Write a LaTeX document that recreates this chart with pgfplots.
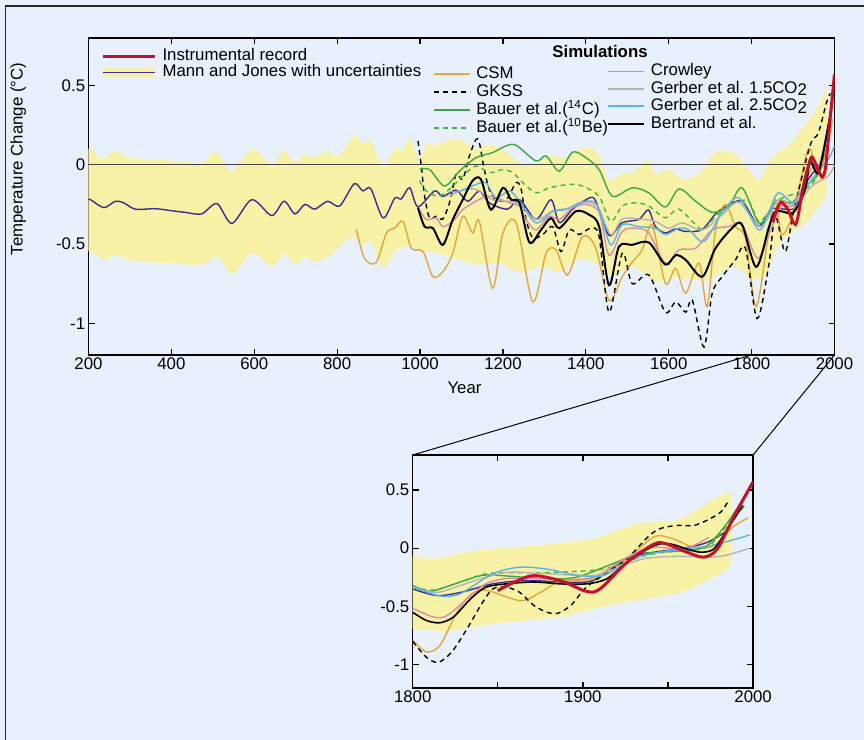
\documentclass[border=0pt]{standalone}
\usepackage{pgfplots}
\pgfplotsset{compat=1.18}
\usepackage{fontspec}
\setmainfont{Liberation Sans}
\definecolor{bg}{HTML}{E8F1FB}
\definecolor{band}{HTML}{F8F2A6}
\definecolor{mj}{RGB}{61,43,143}
\definecolor{csm}{RGB}{226,167,58}
\definecolor{grA}{RGB}{60,168,67}
\definecolor{grB}{RGB}{64,180,70}
\definecolor{crow}{RGB}{217,139,174}
\definecolor{gerA}{RGB}{180,180,180}
\definecolor{gerB}{RGB}{92,178,234}
\definecolor{instr}{RGB}{200,16,46}
\pgfplotsset{
  myax/.style={scale only axis, axis line style={line width=0.75pt}, tick style={black,line width=0.6pt}, major tick length=3pt, tick align=inside,
    ticklabel style={font=\fontsize{8.4}{10}\selectfont}, xticklabel style={inner sep=1.2pt}, yticklabel style={inner xsep=1.5pt}, clip=true},
  sim/.style={line width=0.7pt, smooth},
  legax/.style={scale only axis, at={(44.25pt,192.5pt)}, anchor=south west, width=373pt, height=158.5pt,
    xmin=0,xmax=1,ymin=0,ymax=1, hide axis, legend cell align=left,
    legend style={draw=none, fill=none, inner sep=0pt, font=\fontsize{8.4}{10}\selectfont,
      nodes={inner xsep=1.5pt, inner ysep=0.4pt, text height=6.1pt, text depth=1.8pt}}},
}
\begin{document}
\begin{tikzpicture}[font=\fontsize{8.4}{10}\selectfont]
\fill[bg] (0,0) rectangle (432pt,370pt);
\draw[black!85, line width=0.6pt] (2.6pt,0pt) -- (2.6pt,367pt) -- (432pt,367pt);

% ---------------- main axis
\begin{axis}[myax, name=main, at={(44.25pt,192.5pt)}, anchor=south west, width=373pt, height=158.5pt,
  xmin=200, xmax=2000, ymin=-1.2, ymax=0.8,
  xtick={200,400,...,2000}, xticklabels={200,400,600,800,1000,1200,1400,1600,1800,2000},
  ytick={-1,-0.5,0,0.5}, yticklabels={-1,-0.5,0,0.5},
  xlabel={Year}, ylabel={Temperature Change (°C)},
  xlabel style={at={(axis description cs:0.504,-0.104)}, anchor=center},
  ylabel style={at={(axis description cs:-0.094,0.618)}, anchor=center},
]
\addplot[fill=band, draw=none, smooth] coordinates {(180,0.10) (200,0.10) (209,0.10) (229,0.035) (265,0.085) (297,0.045) (353,0.035) (433,0.018) (473,0.014) (510,0.077) (546,-0.046) (594,0.10) (642,0.003) (672,0.087) (698,0.014) (722,0.066) (746,0.045) (774,0.081) (806,0.056) (841,0.187) (862,0.13) (881,0.15) (911,-0.008) (939,0.103) (955,0.087) (975,0.16) (999,0.035) (1015,0.13) (1035,0.12) (1055,0.14) (1095,0.16) (1135,0.098) (1167,0.13) (1215,0.066) (1240,0.014) (1272,-0.008) (1312,0.056) (1352,0.045) (1376,0.087) (1408,0.11) (1432,0.056) (1456,-0.10) (1488,-0.05) (1512,-0.05) (1552,0.03) (1568,-0.06) (1600,-0.03) (1632,-0.09) (1671,-0.06) (1713,0.077) (1753,0.077) (1793,-0.03) (1817,-0.10) (1849,0.045) (1889,0.12) (1929,0.25) (1961,0.37) (1981,0.48) (1982,0.3) (1982,0.0) (1981,-0.18) (1961,-0.27) (1929,-0.37) (1900,-0.42) (1865,-0.50) (1841,-0.66) (1809,-0.725) (1761,-0.64) (1729,-0.68) (1689,-0.725) (1649,-0.725) (1608,-0.71) (1568,-0.735) (1512,-0.64) (1464,-0.70) (1424,-0.62) (1376,-0.60) (1336,-0.68) (1296,-0.64) (1240,-0.68) (1190,-0.62) (1135,-0.63) (1095,-0.60) (1055,-0.567) (1015,-0.545) (1003,-0.556) (979,-0.51) (939,-0.545) (911,-0.65) (883,-0.49) (862,-0.50) (834,-0.46) (778,-0.58) (746,-0.61) (722,-0.58) (698,-0.63) (674,-0.56) (642,-0.64) (594,-0.556) (546,-0.69) (513,-0.58) (473,-0.63) (393,-0.62) (313,-0.61) (265,-0.57) (241,-0.60) (205,-0.545) (200,-0.545) (180,-0.545)} -- cycle;
\addplot[black!75, line width=0.5pt] coordinates {(200,0) (2000,0)};
% Mann and Jones
\addplot[mj, sim] coordinates {(200,-0.22) (205,-0.22) (237,-0.27) (265,-0.23) (285,-0.24) (313,-0.28) (361,-0.277) (401,-0.29) (433,-0.30) (473,-0.31) (510,-0.245) (546,-0.37) (594,-0.22) (642,-0.32) (672,-0.23) (698,-0.31) (722,-0.25) (746,-0.28) (777,-0.23) (806,-0.26) (841,-0.12) (862,-0.165) (881,-0.15) (911,-0.335) (939,-0.21) (955,-0.215) (975,-0.145) (995,-0.265) (1035,-0.165) (1055,-0.20) (1087,-0.16) (1115,-0.23) (1143,-0.165) (1167,-0.24) (1211,-0.28) (1240,-0.22) (1280,-0.345) (1316,-0.22) (1336,-0.365) (1368,-0.28) (1408,-0.21) (1424,-0.23) (1456,-0.445) (1488,-0.365) (1528,-0.345) (1551,-0.285) (1568,-0.39) (1592,-0.43) (1616,-0.405) (1640,-0.42) (1680,-0.41) (1713,-0.31) (1737,-0.265) (1777,-0.23) (1817,-0.385) (1849,-0.28) (1881,-0.28) (1905,-0.27) (1930,-0.12) (1957,-0.02) (1975,0.05) (1988,0.17)};
% CSM
\addplot[csm, sim] coordinates {(846,-0.405) (866,-0.59) (894,-0.617) (919,-0.43) (939,-0.40) (959,-0.357) (979,-0.526) (1007,-0.547) (1031,-0.706) (1055,-0.675) (1079,-0.558) (1103,-0.325) (1127,-0.43) (1143,-0.357) (1175,-0.78) (1200,-0.43) (1232,-0.367) (1272,-0.865) (1304,-0.558) (1328,-0.536) (1356,-0.695) (1392,-0.452) (1424,-0.526) (1456,-0.855) (1488,-0.706) (1510,-0.62) (1536,-0.536) (1560,-0.378) (1592,-0.748) (1617,-0.653) (1641,-0.81) (1673,-0.62) (1693,-0.895) (1713,-0.41) (1737,-0.25) (1761,-0.39) (1785,-0.462) (1811,-0.895) (1841,-0.43) (1857,-0.22) (1873,-0.44) (1901,-0.30) (1937,0.10) (1961,-0.06) (1985,0.14) (1995,0.29)};
% GKSS
\addplot[black, sim, dash pattern=on 2.5pt off 2pt] coordinates {(995,0.15) (1003,-0.007) (1011,-0.198) (1023,-0.336) (1039,-0.325) (1055,-0.342) (1071,-0.24) (1087,-0.06) (1103,-0.092) (1119,0.056) (1135,0.16) (1143,0.14) (1155,-0.03) (1167,-0.155) (1183,-0.22) (1208,-0.22) (1232,-0.113) (1244,-0.155) (1256,-0.346) (1272,-0.462) (1296,-0.44) (1320,-0.39) (1340,-0.547) (1360,-0.41) (1384,-0.44) (1412,-0.40) (1432,-0.452) (1456,-0.93) (1488,-0.558) (1512,-0.75) (1552,-0.695) (1592,-0.93) (1617,-0.865) (1641,-0.93) (1657,-0.855) (1685,-1.15) (1705,-0.81) (1729,-0.706) (1761,-0.60) (1785,-0.526) (1813,-0.97) (1841,-0.64) (1857,-0.325) (1881,-0.548) (1901,-0.30) (1941,0.12) (1961,0.20) (1981,0.395) (1990,0.45)};
% Bauer 14C
\addplot[grA, sim] coordinates {(999,-0.03) (1023,-0.03) (1059,-0.134) (1095,-0.04) (1135,0.045) (1175,0.077) (1208,0.12) (1232,0.123) (1280,0.024) (1304,0.056) (1336,-0.04) (1368,0.08) (1400,0.045) (1432,-0.03) (1464,-0.198) (1512,-0.145) (1552,-0.177) (1592,-0.266) (1625,-0.152) (1665,-0.23) (1705,-0.30) (1745,-0.26) (1777,-0.145) (1817,-0.367) (1841,-0.30) (1865,-0.22) (1897,-0.24) (1929,-0.134) (1961,-0.05) (1985,0.246) (1998,0.46)};
% Bauer 10Be
\addplot[grB, sim, dash pattern=on 2.5pt off 2pt] coordinates {(999,-0.10) (1015,-0.166) (1047,-0.198) (1079,-0.134) (1103,-0.071) (1135,-0.007) (1167,-0.05) (1200,-0.03) (1224,-0.05) (1248,-0.113) (1280,-0.177) (1312,-0.145) (1360,-0.124) (1392,-0.134) (1432,-0.20) (1460,-0.357) (1488,-0.26) (1520,-0.24) (1552,-0.26) (1592,-0.335) (1625,-0.28) (1681,-0.41) (1713,-0.325) (1761,-0.24) (1793,-0.23) (1817,-0.357) (1841,-0.30) (1865,-0.22) (1929,-0.155) (1961,-0.05) (1993,0.31)};
% Crowley
\addplot[crow, sim] coordinates {(999,-0.283) (1015,-0.346) (1039,-0.336) (1055,-0.39) (1079,-0.357) (1103,-0.283) (1135,-0.23) (1167,-0.198) (1216,-0.24) (1240,-0.26) (1256,-0.346) (1280,-0.41) (1312,-0.325) (1336,-0.346) (1368,-0.272) (1400,-0.25) (1432,-0.30) (1456,-0.57) (1488,-0.42) (1520,-0.40) (1552,-0.43) (1592,-0.62) (1625,-0.536) (1665,-0.526) (1705,-0.41) (1745,-0.39) (1777,-0.378) (1815,-0.59) (1849,-0.39) (1873,-0.26) (1897,-0.26) (1929,-0.11) (1950,0.0) (1961,-0.01) (1974,0.10)};
% Gerber 1.5
\addplot[gerA, sim] coordinates {(1071,-0.198) (1103,-0.16) (1135,-0.155) (1175,-0.22) (1216,-0.23) (1240,-0.25) (1280,-0.346) (1320,-0.293) (1360,-0.272) (1392,-0.24) (1428,-0.26) (1460,-0.44) (1488,-0.342) (1528,-0.342) (1568,-0.357) (1600,-0.40) (1633,-0.367) (1681,-0.41) (1729,-0.315) (1769,-0.236) (1817,-0.388) (1841,-0.33) (1865,-0.22) (1905,-0.26) (1945,-0.134) (1985,-0.07) (2000,0.0)};
% Gerber 2.5
\addplot[gerB, sim] coordinates {(1071,-0.17) (1095,-0.166) (1135,-0.124) (1159,-0.113) (1183,-0.208) (1216,-0.166) (1240,-0.23) (1280,-0.367) (1320,-0.293) (1352,-0.283) (1384,-0.24) (1416,-0.23) (1432,-0.283) (1460,-0.505) (1488,-0.378) (1528,-0.39) (1568,-0.40) (1592,-0.44) (1625,-0.40) (1649,-0.41) (1685,-0.484) (1729,-0.304) (1769,-0.208) (1817,-0.41) (1841,-0.30) (1865,-0.177) (1905,-0.24) (1945,-0.092) (1985,0.035) (2000,0.12)};
% Bertrand
\addplot[black, line width=1pt, smooth] coordinates {(995,-0.27) (1011,-0.39) (1031,-0.40) (1055,-0.505) (1079,-0.346) (1103,-0.22) (1127,-0.10) (1147,-0.092) (1171,-0.283) (1200,-0.145) (1220,-0.22) (1240,-0.24) (1264,-0.49) (1292,-0.41) (1316,-0.336) (1336,-0.40) (1376,-0.293) (1408,-0.315) (1432,-0.39) (1456,-0.76) (1480,-0.516) (1512,-0.505) (1552,-0.49) (1592,-0.63) (1617,-0.57) (1641,-0.60) (1681,-0.706) (1713,-0.526) (1753,-0.40) (1777,-0.378) (1811,-0.645) (1841,-0.40) (1855,-0.30) (1873,-0.294) (1901,-0.30) (1929,-0.155) (1941,0.024) (1961,-0.05) (1985,0.246) (1995,0.40)};
% Instrumental
\addplot[instr, line width=1.5pt, smooth] coordinates {(1850,-0.364) (1860,-0.29) (1871,-0.235) (1887,-0.28) (1902,-0.37) (1910,-0.35) (1926,-0.12) (1942,0.037) (1949,0.037) (1961,-0.034) (1971,-0.077) (1979,-0.006) (1989,0.28) (2000,0.57)};
\coordinate (m1800) at (axis cs:1800,-1.2);
\coordinate (m2000) at (axis cs:2000,-1.2);
\end{axis}

% ---------------- legends
\begin{axis}[legax, legend style={at={(0.0137,0.970)}, anchor=north west, row sep=-0.85pt}]
\addplot[draw=none, forget plot] coordinates {(0,0) (1,1)};
\addlegendimage{legend image code/.code={\draw[instr, line width=1.5pt] (0pt,0pt) -- (26pt,0pt);}}
\addlegendentry{Instrumental record}
\addlegendimage{legend image code/.code={\draw[band, line width=4.2pt] (0pt,0pt) -- (26pt,0pt); \draw[mj, line width=0.65pt] (0pt,0pt) -- (26pt,0pt);}}
\addlegendentry{Mann and Jones with uncertainties}
\end{axis}
\begin{axis}[legax, legend style={at={(0.462,0.916)}, anchor=north west, row sep=0.4pt}]
\addplot[draw=none, forget plot] coordinates {(0,0) (1,1)};
\addlegendimage{legend image code/.code={\draw[draw=csm, line width=0.9pt, solid] (0pt,0pt) -- (18pt,0pt);}}
\addlegendentry{\hspace{1pt}CSM}
\addlegendimage{legend image code/.code={\draw[draw=black, line width=0.9pt, dash pattern=on 2.5pt off 2pt] (0pt,0pt) -- (18pt,0pt);}}
\addlegendentry{\hspace{1pt}GKSS}
\addlegendimage{legend image code/.code={\draw[draw=grA, line width=0.9pt, solid] (0pt,0pt) -- (18pt,0pt);}}
\addlegendentry{\hspace{1pt}Bauer et al.(\textsuperscript{14}C)}
\addlegendimage{legend image code/.code={\draw[draw=grB, line width=0.9pt, dash pattern=on 2.5pt off 2pt] (0pt,0pt) -- (18pt,0pt);}}
\addlegendentry{\hspace{1pt}Bauer et al.(\textsuperscript{10}Be)}
\end{axis}
\begin{axis}[legax, legend style={at={(0.695,0.923)}, anchor=north west, row sep=0pt}]
\addplot[draw=none, forget plot] coordinates {(0,0) (1,1)};
\addlegendimage{legend image code/.code={\draw[draw=crow, line width=0.9pt, solid] (0pt,0pt) -- (18pt,0pt);}}
\addlegendentry{\hspace{1.2pt}Crowley}
\addlegendimage{legend image code/.code={\draw[draw=gerA, line width=0.9pt, solid] (0pt,0pt) -- (18pt,0pt);}}
\addlegendentry{\hspace{1.2pt}Gerber et al.\ 1.5CO\raisebox{-0.3ex}{2}}
\addlegendimage{legend image code/.code={\draw[draw=gerB, line width=0.9pt, solid] (0pt,0pt) -- (18pt,0pt);}}
\addlegendentry{\hspace{1.2pt}Gerber et al.\ 2.5CO\raisebox{-0.3ex}{2}}
\addlegendimage{legend image code/.code={\draw[draw=black, line width=1.1pt, solid] (0pt,0pt) -- (18pt,0pt);}}
\addlegendentry{\hspace{1.2pt}Bertrand et al.}
\end{axis}
\node[font=\bfseries\fontsize{8.4}{10}\selectfont] at (300pt,344.2pt) {Simulations};

% ---------------- inset
\begin{axis}[myax, name=inset, at={(206.35pt,26pt)}, anchor=south west, width=170.2pt, height=116.5pt,
  xmin=1800, xmax=2000, ymin=-1.2, ymax=0.8,
  xtick={1800,1850,1900,1950,2000}, xticklabels={1800,,1900,,2000},
  ytick={-1,-0.5,0,0.5}, yticklabels={-1,-0.5,0,0.5},
]
\addplot[fill=band, draw=none, smooth] coordinates {(1795,-0.06) (1800,-0.064) (1812,-0.09) (1830,-0.04) (1847,-0.006) (1870,0.02) (1906,0.08) (1932,0.21) (1955,0.24) (1975,0.40) (1986,0.48) (1987,0.3) (1987,0.0) (1986,-0.16) (1975,-0.26) (1957,-0.38) (1916,-0.49) (1885,-0.59) (1847,-0.65) (1820,-0.71) (1800,-0.69) (1795,-0.69)} -- cycle;
\addplot[mj, sim] coordinates {(1800,-0.35) (1814,-0.406) (1828,-0.38) (1847,-0.306) (1867,-0.277) (1887,-0.29) (1906,-0.277) (1926,-0.09) (1942,-0.034) (1957,-0.006) (1973,0.05) (1987,0.17)};
\addplot[csm, sim] coordinates {(1800,-0.79) (1808,-0.89) (1816,-0.835) (1826,-0.55) (1834,-0.40) (1843,-0.36) (1863,-0.45) (1875,-0.38) (1887,-0.28) (1906,-0.26) (1926,-0.09) (1942,0.10) (1953,0.08) (1965,0.009) (1977,0.02) (1987,0.17) (1997,0.26)};
\addplot[black, sim, dash pattern=on 2.5pt off 2pt] coordinates {(1800,-0.80) (1808,-0.935) (1815,-0.98) (1823,-0.89) (1832,-0.69) (1840,-0.49) (1847,-0.35) (1855,-0.335) (1863,-0.38) (1871,-0.49) (1879,-0.55) (1885,-0.56) (1893,-0.49) (1902,-0.335) (1915,-0.2) (1926,-0.09) (1938,0.094) (1945,0.166) (1955,0.195) (1965,0.195) (1973,0.24) (1981,0.31) (1985,0.395)};
\addplot[grA, sim] coordinates {(1800,-0.32) (1810,-0.37) (1822,-0.32) (1834,-0.26) (1843,-0.23) (1857,-0.24) (1877,-0.26) (1896,-0.25) (1918,-0.13) (1932,-0.05) (1945,-0.034) (1961,-0.02) (1973,0.023) (1985,0.22) (1996,0.47)};
\addplot[grB, sim, dash pattern=on 2.5pt off 2pt] coordinates {(1800,-0.33) (1812,-0.36) (1828,-0.29) (1843,-0.22) (1857,-0.21) (1877,-0.21) (1906,-0.19) (1920,-0.15) (1935,-0.07) (1950,-0.03) (1965,-0.02) (1975,0.03) (1985,0.2) (1996,0.38)};
\addplot[crow, sim] coordinates {(1800,-0.515) (1812,-0.59) (1820,-0.58) (1832,-0.435) (1843,-0.306) (1855,-0.26) (1871,-0.26) (1887,-0.27) (1906,-0.25) (1920,-0.13) (1932,-0.034) (1942,0.009) (1955,-0.006) (1965,0.023) (1974,0.094)};
\addplot[gerA, sim] coordinates {(1800,-0.335) (1814,-0.38) (1828,-0.32) (1843,-0.25) (1857,-0.206) (1880,-0.22) (1906,-0.235) (1920,-0.17) (1936,-0.09) (1955,-0.07) (1975,-0.077) (1985,-0.057) (1998,0.0)};
\addplot[gerB, sim] coordinates {(1800,-0.33) (1816,-0.41) (1828,-0.39) (1847,-0.22) (1863,-0.163) (1879,-0.18) (1896,-0.23) (1912,-0.235) (1930,-0.09) (1945,-0.034) (1961,-0.006) (1975,0.023) (1987,0.066) (1998,0.114)};
\addplot[black, line width=0.8pt, smooth] coordinates {(1800,-0.55) (1808,-0.62) (1816,-0.64) (1824,-0.59) (1834,-0.435) (1843,-0.335) (1855,-0.306) (1871,-0.29) (1887,-0.306) (1902,-0.306) (1914,-0.263) (1926,-0.12) (1942,0.023) (1951,0.037) (1961,-0.006) (1969,-0.034) (1977,-0.006) (1985,0.166) (1994,0.366)};
\addplot[instr, line width=1.5pt, smooth] coordinates {(1850,-0.364) (1860,-0.29) (1871,-0.235) (1887,-0.28) (1902,-0.37) (1910,-0.35) (1926,-0.12) (1942,0.037) (1949,0.037) (1961,-0.034) (1971,-0.077) (1979,-0.006) (1989,0.28) (2000,0.57)};
\end{axis}
\draw[black, line width=0.5pt] (m1800) -- (inset.north west);
\draw[black, line width=0.5pt] (m2000) -- (inset.north east);
\pgfresetboundingbox
\useasboundingbox (0,0) rectangle (432pt,370pt);
\end{tikzpicture}
\end{document}
